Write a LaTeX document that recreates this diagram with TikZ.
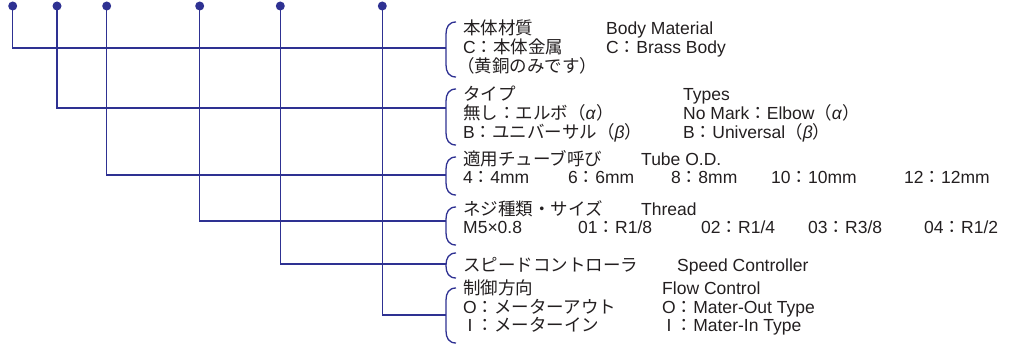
\documentclass[tikz,border=0pt]{standalone}
\usepackage{fontspec}
\setmainfont{Liberation Sans}
\newfontfamily\jp{Noto Sans CJK JP}
\newcommand{\jcol}{{\jp ：}}

\definecolor{navy}{RGB}{46,49,146}
\definecolor{ink}{RGB}{35,31,32}

\tikzset{
  dot/.style={circle, fill=navy, inner sep=0pt, minimum size=9pt},
  conn/.style={draw=navy, line width=1.3pt},
  lbl/.style={anchor=base west, inner sep=0pt, text=ink,
    font=\fontsize{17.5}{19.3}\selectfont},
}

\begin{document}
\begin{tikzpicture}[x=1pt, y=-1pt]
    \useasboundingbox (0,0) rectangle (1011,350);
    \foreach \i/\dx/\ly/\bt/\bb in {1/12.7/48/22/77, 2/57/108/89/145,
      3/106.7/175/157/195, 4/199.7/221/207/245, 5/280.3/264/253/278,
      6/382.3/315/288/343} {
      \coordinate (b\i) at (446,\ly);
      \draw[conn] (\dx,6) |- (b\i);
      \node[dot] (d\i) at (\dx,6) {};
      \draw[conn] (456,\bt) .. controls (449,\bt) and (446,\bt+5) .. (446,\bt+12)
        -- (446,\bb-12) .. controls (446,\bb-5) and (449,\bb) .. (456,\bb);
    }
    % body material
    \node[lbl] (bm1) at (463,34.3) {{\jp 本体材質}};
    \node[lbl] (bm2) at (463,53.5) {C{\jp ：本体金属}};
    \node[lbl] (bm3) at (463,72.7) {\kern-.35em{\jp （黄銅のみです）}};
    \node[lbl] (bm4) at (606,34.3) {Body Material};
    \node[lbl] (bm5) at (606,53.5) {C\jcol Brass Body};
    % types
    \node[lbl] (ty1) at (463,100.7) {{\jp タイプ}};
    \node[lbl] (ty2) at (463,120) {{\jp 無し：エルボ（}\textit{α}{\jp ）}};
    \node[lbl] (ty3) at (463,139) {B{\jp ：ユニバーサル（}\textit{β}{\jp ）}};
    \node[lbl] (ty4) at (683,100.7) {Types};
    \node[lbl] (ty5) at (683,120) {No Mark\jcol Elbow{\jp （}\textit{α}{\jp ）}};
    \node[lbl] (ty6) at (683,139) {B\jcol Universal{\jp （}\textit{β}{\jp ）}};
    % tube
    \node[lbl] (tb1) at (463,165) {{\jp 適用チューブ呼び}};
    \node[lbl] (tb2) at (641,165) {Tube O.D.};
    \node[lbl] (tb3) at (463,183.5) {4\jcol 4mm};
    \node[lbl] (tb4) at (568,183.5) {6\jcol 6mm};
    \node[lbl] (tb5) at (671,183.5) {8\jcol 8mm};
    \node[lbl] (tb6) at (771,183.5) {10\jcol 10mm};
    \node[lbl] (tb7) at (904,183.5) {12\jcol 12mm};
    % thread
    \node[lbl] (th1) at (463,215) {{\jp ネジ種類・サイズ}};
    \node[lbl] (th2) at (641,215) {Thread};
    \node[lbl] (th3) at (463,233) {M5×0.8};
    \node[lbl] (th4) at (578,233) {01\jcol R1/8};
    \node[lbl] (th5) at (701,233) {02\jcol R1/4};
    \node[lbl] (th6) at (808,233) {03\jcol R3/8};
    \node[lbl] (th7) at (924,233) {04\jcol R1/2};
    % speed controller
    \node[lbl] (sc1) at (463,271.5) {{\jp スピードコントローラ}};
    \node[lbl] (sc2) at (677,271.5) {Speed Controller};
    % flow control
    \node[lbl] (fc1) at (463,294.3) {{\jp 制御方向}};
    \node[lbl] (fc2) at (463,313.3) {O{\jp ：メーターアウト}};
    \node[lbl] (fc3) at (463,331.7) {\makebox[.78em]{I}{\jp ：メーターイン}};
    \node[lbl] (fc4) at (662,294.3) {Flow Control};
    \node[lbl] (fc5) at (662,313.3) {O\jcol Mater-Out Type};
    \node[lbl] (fc6) at (662,331.7) {\makebox[.78em]{I}\jcol Mater-In Type};
\end{tikzpicture}
\end{document}
